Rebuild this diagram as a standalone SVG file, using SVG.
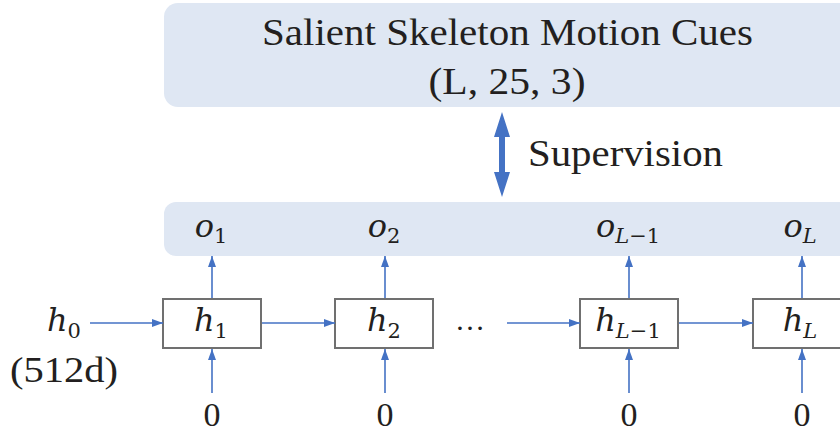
<svg xmlns="http://www.w3.org/2000/svg" width="840" height="432" viewBox="0 0 840 432">
<style>
.band{fill:#dfe7f3;stroke:none}
.cell{fill:#ffffff;stroke:#707070;stroke-width:2}
.rm{font-family:'Liberation Serif','Times New Roman',Times,serif;fill:#231f20}
.mi{font-family:'DejaVu Serif',serif;font-style:italic;fill:#231f20;font-size:32px}
.sb{font-style:normal;font-size:21px}
.sbi{font-style:italic;font-size:21px}
.ln{stroke:#4472c4;stroke-width:1.6;fill:none;marker-end:url(#ah)}
</style>
<defs>
<marker id="ah" markerUnits="userSpaceOnUse" markerWidth="11" markerHeight="8" refX="11" refY="4" orient="auto">
<path d="M0,0 L11,4 L0,8 z" fill="#4472c4"/>
</marker>
</defs>
<rect width="840" height="432" fill="#ffffff"/>
<g id="cues">
<rect class="band" x="164" y="3" width="690" height="104" rx="14"/>
<text class="rm" x="507.5" y="45" font-size="37" text-anchor="middle" textLength="491" lengthAdjust="spacingAndGlyphs">Salient Skeleton Motion Cues</text>
<text class="rm" x="507" y="94" font-size="37" text-anchor="middle" textLength="157" lengthAdjust="spacingAndGlyphs">(L, 25, 3)</text>
</g>
<g id="outputs">
<rect class="band" x="164" y="202" width="690" height="54" rx="12"/>
<text class="mi" x="211" y="237" text-anchor="middle">o<tspan class="sb" dy="6">1</tspan></text>
<text class="mi" x="384" y="237" text-anchor="middle">o<tspan class="sb" dy="6">2</tspan></text>
<text class="mi" x="628" y="237" text-anchor="middle">o<tspan class="sbi" dy="6">L</tspan><tspan class="sb">−1</tspan></text>
<text class="mi" x="800" y="237" text-anchor="middle">o<tspan class="sbi" dy="6">L</tspan></text>
</g>
<g id="supervision-label">
<text class="rm" x="528" y="166" font-size="37" textLength="195" lengthAdjust="spacingAndGlyphs">Supervision</text>
</g>
<g id="h0">
<text class="mi" x="64" y="331" text-anchor="middle">h<tspan class="sb" dy="7">0</tspan></text>
<text class="rm" x="64" y="382" font-size="35" text-anchor="middle" textLength="108" lengthAdjust="spacingAndGlyphs">(512d)</text>
</g>
<g id="h1">
<rect class="cell" x="163" y="299" width="98" height="49"/>
<text class="mi" x="211" y="331" text-anchor="middle">h<tspan class="sb" dy="7">1</tspan></text>
</g>
<g id="h2">
<rect class="cell" x="335" y="299" width="98" height="49"/>
<text class="mi" x="384" y="331" text-anchor="middle">h<tspan class="sb" dy="7">2</tspan></text>
</g>
<g id="dots">
<text class="rm" x="470" y="330" font-size="30" text-anchor="middle">…</text>
</g>
<g id="hL1">
<rect class="cell" x="580" y="299" width="98" height="49"/>
<text class="mi" x="628" y="331" text-anchor="middle">h<tspan class="sbi" dy="7">L</tspan><tspan class="sb">−1</tspan></text>
</g>
<g id="hL">
<rect class="cell" x="753" y="299" width="98" height="49"/>
<text class="mi" x="800" y="331" text-anchor="middle">h<tspan class="sbi" dy="7">L</tspan></text>
</g>
<g id="zeros">
<text class="rm" x="212" y="426" font-size="34" text-anchor="middle">0</text>
<text class="rm" x="385" y="426" font-size="34" text-anchor="middle">0</text>
<text class="rm" x="629" y="426" font-size="34" text-anchor="middle">0</text>
<text class="rm" x="802" y="426" font-size="34" text-anchor="middle">0</text>
</g>
<g id="connectors">
<polygon points="502,112 510,137 505,137 505,172 510,172 502,197 494,172 499,172 499,137 494,137" fill="#4472c4"/>
<line class="ln" x1="90" y1="323" x2="163" y2="323"/>
<line class="ln" x1="262" y1="323" x2="335" y2="323"/>
<line class="ln" x1="507" y1="323" x2="580" y2="323"/>
<line class="ln" x1="679" y1="323" x2="753" y2="323"/>
<line class="ln" x1="212" y1="298" x2="212" y2="256"/>
<line class="ln" x1="385" y1="298" x2="385" y2="256"/>
<line class="ln" x1="629" y1="298" x2="629" y2="256"/>
<line class="ln" x1="802" y1="298" x2="802" y2="256"/>
<line class="ln" x1="212" y1="393" x2="212" y2="349"/>
<line class="ln" x1="385" y1="393" x2="385" y2="349"/>
<line class="ln" x1="629" y1="393" x2="629" y2="349"/>
<line class="ln" x1="802" y1="393" x2="802" y2="349"/>
</g>
</svg>
